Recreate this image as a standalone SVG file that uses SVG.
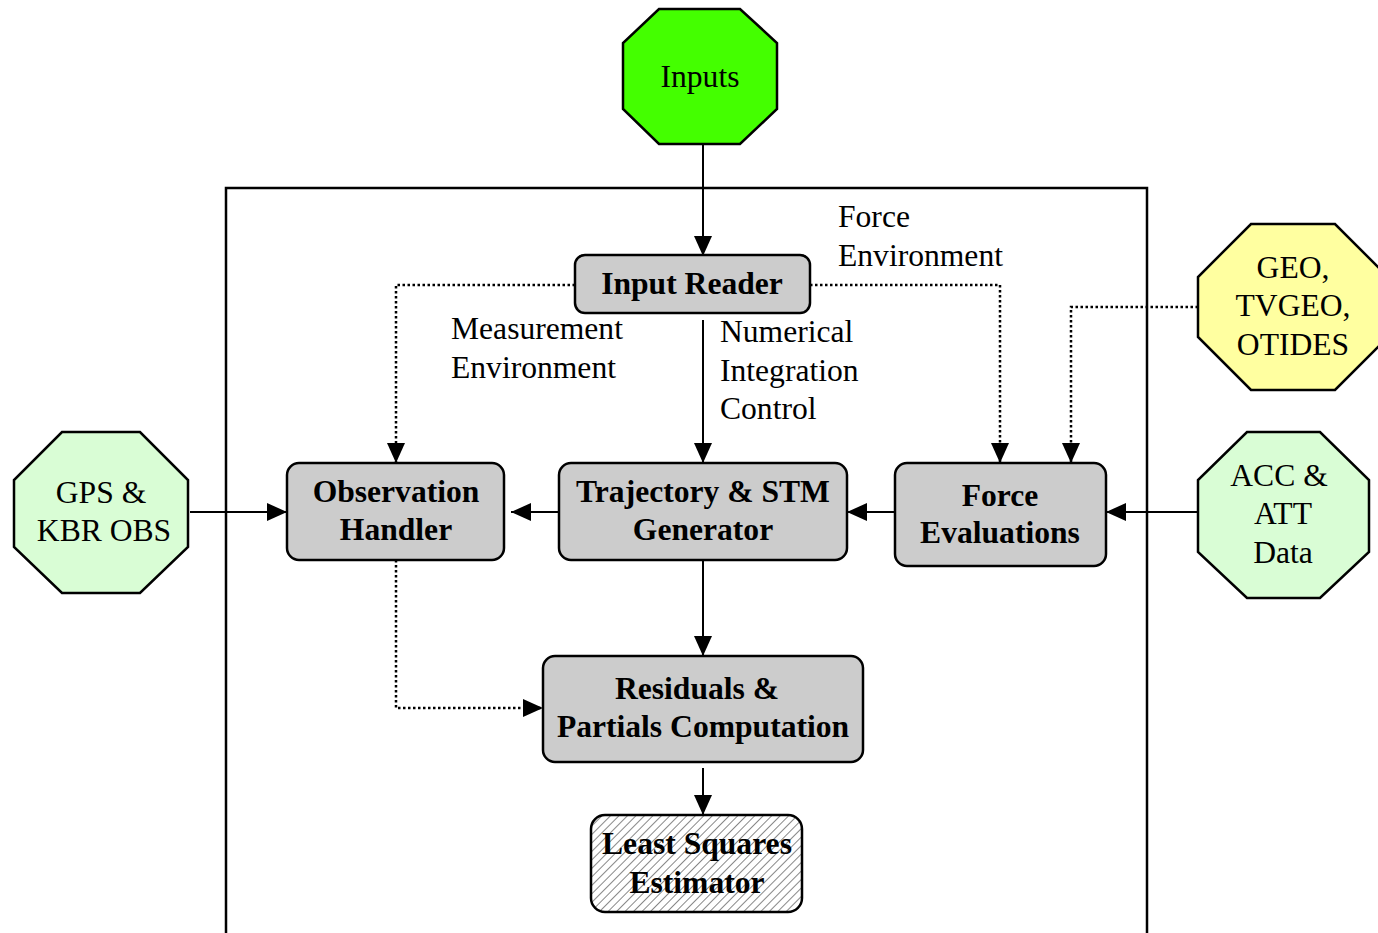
<svg xmlns="http://www.w3.org/2000/svg" width="1378" height="933" viewBox="0 0 1378 933">
<style>
.t{font-family:"Liberation Serif","Times New Roman",serif;font-size:31.6px;fill:#000}
.b{font-weight:bold;text-anchor:middle}
.m{text-anchor:middle}
.box{fill:#cccccc;stroke:#000;stroke-width:2.5}
.oct{stroke:#000;stroke-width:2.5}
.ln{fill:none;stroke:#000;stroke-width:2}
.dot{fill:none;stroke:#000;stroke-width:2.5;stroke-dasharray:2.5 2.5}
</style>
<defs>
<marker id="ah" markerUnits="userSpaceOnUse" markerWidth="20" markerHeight="20" viewBox="0 0 20 20" refX="20" refY="10" orient="auto">
<path d="M0,1 L20,10 L0,19 Z" fill="#000"/>
</marker>
<pattern id="hatch" patternUnits="userSpaceOnUse" width="6" height="6" patternTransform="rotate(45)">
<rect width="6" height="6" fill="#fff"/>
<line x1="0" y1="0" x2="0" y2="6" stroke="#888" stroke-width="2"/>
</pattern>
</defs>
<rect x="0" y="0" width="1378" height="933" fill="#fff"/>
<rect x="226" y="188" width="921" height="760" fill="none" stroke="#000" stroke-width="2.5"/>

<g id="connectors">
<path class="ln" d="M703,144 V256" marker-end="url(#ah)"/>
<path class="ln" d="M703,320 V463" marker-end="url(#ah)"/>
<path class="ln" d="M703,560 V656" marker-end="url(#ah)"/>
<path class="ln" d="M703,768 V815" marker-end="url(#ah)"/>
<path class="ln" d="M190,512 H287" marker-end="url(#ah)"/>
<path class="ln" d="M559,512 H511" marker-end="url(#ah)"/>
<path class="ln" d="M895,512 H847" marker-end="url(#ah)"/>
<path class="ln" d="M1198,512 H1106" marker-end="url(#ah)"/>
<path class="dot" d="M575,285 H396 V463" marker-end="url(#ah)"/>
<path class="dot" d="M810,285 H1000 V463" marker-end="url(#ah)"/>
<path class="dot" d="M1198,307 H1071 V463" marker-end="url(#ah)"/>
<path class="dot" d="M396,560 V708 H543" marker-end="url(#ah)"/>
</g>

<g id="labels">
<text class="t" x="838" y="227">Force</text>
<text class="t" x="838" y="266">Environment</text>
<text class="t" x="451" y="339">Measurement</text>
<text class="t" x="451" y="378">Environment</text>
<text class="t" x="720" y="342">Numerical</text>
<text class="t" x="720" y="381">Integration</text>
<text class="t" x="720" y="419">Control</text>
</g>

<g id="inputs">
<polygon class="oct" fill="#44ff00" points="659,9 740,9 777,43 777,109 740,144 659,144 623,109 623,43"/>
<text class="t m" x="700" y="87">Inputs</text>
</g>

<g id="geo">
<polygon class="oct" fill="#ffffa0" points="1251,224 1335,224 1388,277 1388,337 1335,390 1251,390 1198,337 1198,277"/>
<text class="t m" x="1293" y="278">GEO,</text>
<text class="t m" x="1293" y="316">TVGEO,</text>
<text class="t m" x="1293" y="355">OTIDES</text>
</g>

<g id="gps">
<polygon class="oct" fill="#d9fdd5" points="62,432 140,432 188,480 188,547 140,593 62,593 14,547 14,480"/>
<text class="t m" x="101" y="503">GPS &amp;</text>
<text class="t m" x="104" y="541">KBR OBS</text>
</g>

<g id="acc">
<polygon class="oct" fill="#d9fdd5" points="1247,432 1320,432 1369,480 1369,552 1320,598 1247,598 1198,552 1198,480"/>
<text class="t m" x="1279" y="486">ACC &amp;</text>
<text class="t m" x="1283" y="524">ATT</text>
<text class="t m" x="1283" y="563">Data</text>
</g>

<g id="input-reader">
<rect class="box" x="575" y="255" width="235" height="58" rx="10"/>
<text class="t b" x="692" y="294">Input Reader</text>
</g>

<g id="observation-handler">
<rect class="box" x="287" y="463" width="217" height="97" rx="12"/>
<text class="t b" x="396" y="502">Observation</text>
<text class="t b" x="396" y="540">Handler</text>
</g>

<g id="trajectory">
<rect class="box" x="559" y="463" width="288" height="97" rx="12"/>
<text class="t b" x="703" y="502">Trajectory &amp; STM</text>
<text class="t b" x="703" y="540">Generator</text>
</g>

<g id="force-evaluations">
<rect class="box" x="895" y="463" width="211" height="103" rx="12"/>
<text class="t b" x="1000" y="506">Force</text>
<text class="t b" x="1000" y="543">Evaluations</text>
</g>

<g id="residuals">
<rect class="box" x="543" y="656" width="320" height="106" rx="12"/>
<text class="t b" x="697" y="699">Residuals &amp;</text>
<text class="t b" x="703" y="737">Partials Computation</text>
</g>

<g id="least-squares">
<rect x="591" y="815" width="211" height="97" rx="14" fill="url(#hatch)" stroke="#000" stroke-width="2.5"/>
<text class="t b" x="697" y="854">Least Squares</text>
<text class="t b" x="697" y="893">Estimator</text>
</g>
</svg>
